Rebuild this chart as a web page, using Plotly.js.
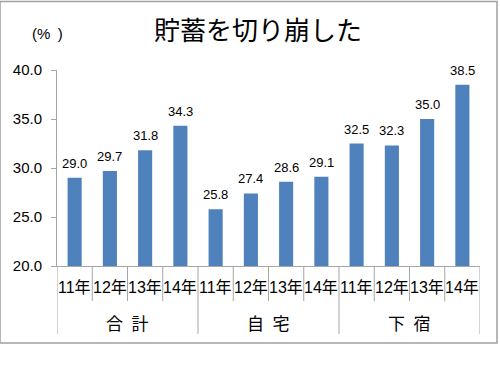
<!DOCTYPE html>
<html><head><meta charset="utf-8">
<script src="https://cdn.plot.ly/plotly-3.0.1.min.js"></script>
<style>html,body{margin:0;padding:0;background:#fff;}#chart{width:500px;height:372px;}</style>
</head><body><div id="chart"></div>
<script>
const years = ["11年","12年","13年","14年"];
const groups = ["合\u2002計","自\u2002宅","下\u2002宿"];
const values = [29.0,29.7,31.8,34.3, 25.8,27.4,28.6,29.1, 32.5,32.3,35.0,38.5];
const titleText = "貯蓄を切り崩した";
const unitText = "(%\u2002)";

const FONT = "Liberation Sans, Arial, 'Noto Sans CJK JP', sans-serif";
const xs = values.map((v,i)=>i);
const yearLabels = values.map((v,i)=>years[i % years.length]);

const annotations = [];
values.forEach((v,i)=>{
  annotations.push({x:xs[i], y:v, xref:'x', yref:'y', text:v.toFixed(1), showarrow:false,
    yanchor:'bottom', yshift:5, font:{family:FONT, size:13, color:'#000'}});
  annotations.push({x:xs[i], y:-0.112, xref:'x', yref:'paper', text:yearLabels[i], showarrow:false,
    yanchor:'middle', font:{family:FONT, size:16, color:'#000'}});
});
groups.forEach((g,k)=>{
  annotations.push({x:k*years.length + (years.length-1)/2, y:-0.29, xref:'x', yref:'paper', text:g, showarrow:false,
    yanchor:'middle', font:{family:"'Noto Sans CJK JP', sans-serif", size:17, color:'#000'}});
});
annotations.push({xref:'paper', yref:'paper', x:-0.022, y:1.184, text:unitText, showarrow:false,
  xanchor:'center', yanchor:'middle', font:{family:FONT, size:15, color:'#000'}});

const shapes = [];
for (let b=0; b<=values.length; b++){
  const isGroup = (b % years.length === 0);
  shapes.push({type:'line', xref:'x', yref:'paper', x0:b-0.5, x1:b-0.5, y0:0, y1: isGroup ? -0.347 : -0.179,
    line:{color:'#a6a6a6', width:1}});
}
// outer frame
shapes.push({type:'rect', xref:'paper', yref:'paper', x0:-57/423, x1:(497-57)/423, y0:(266-343)/196, y1:(266-1.5)/196,
  line:{color:'#a0a0a0', width:1.5}, fillcolor:'rgba(0,0,0,0)', layer:'below'});

const trace = {type:'bar', x:xs, y:values, width:0.4, marker:{color:'#4f81bd'}, hoverinfo:'skip'};

const layout = {
  width:500, height:372,
  margin:{l:57, r:20, t:70, b:106},
  paper_bgcolor:'#fff', plot_bgcolor:'#fff',
  showlegend:false,
  title:{text:titleText, x:258/500, xanchor:'center', y:1-31/372, yanchor:'middle',
    font:{family:"'Noto Sans CJK JP', sans-serif", size:26, color:'#000'}},
  xaxis:{range:[-0.5, values.length-0.5], showticklabels:false, ticks:'', showgrid:false, zeroline:false,
    showline:true, linecolor:'#a6a6a6', linewidth:1, fixedrange:true},
  yaxis:{range:[20,40], dtick:5, tick0:20, tickformat:'.1f', ticks:'outside', ticklen:5, tickcolor:'#a6a6a6',
    showgrid:false, zeroline:false, showline:true, linecolor:'#a6a6a6', linewidth:1,
    tickfont:{family:FONT, size:15, color:'#000'}, ticklabelstandoff:6, fixedrange:true},
  annotations:annotations,
  shapes:shapes
};
Plotly.newPlot('chart',[trace],layout,{staticPlot:true, displayModeBar:false});
</script></body></html>
